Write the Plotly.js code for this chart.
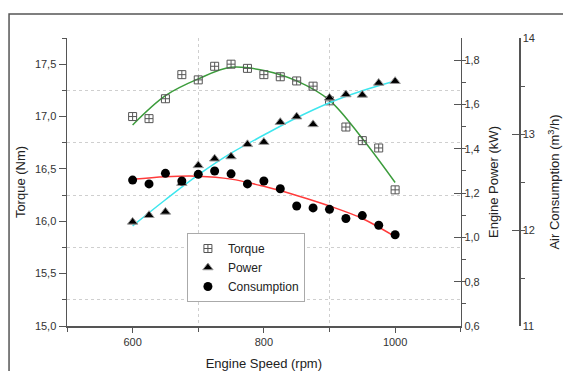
<!DOCTYPE html>
<html>
<head>
<meta charset="utf-8">
<script src="https://cdn.plot.ly/plotly-3.0.1.min.js"></script>
<style>html,body{margin:0;padding:0;background:#fff;}#chart{width:563px;height:371px;}</style>
</head>
<body>
<div id="chart"></div>
<script>
// Measured data points
const speed = [600,625,650,675,700,725,750,775,800,825,850,875,900,925,950,975,1000];
const torque = [17.00,16.98,17.17,17.40,17.35,17.48,17.50,17.46,17.40,17.38,17.34,17.29,17.15,16.90,16.77,16.70,16.30];
const power = [1.07,1.10,1.115,1.245,1.325,1.355,1.365,1.42,1.43,1.52,1.545,1.51,1.63,1.645,1.643,1.697,1.705];
const consumption = [12.52,12.48,12.59,12.51,12.58,12.615,12.585,12.48,12.51,12.43,12.25,12.23,12.215,12.12,12.15,12.05,11.95];

// Fit curves
const fitSpeed = [600,650,700,750,800,850,900,950,1000];
const torqueFit = [16.92,17.20,17.36,17.47,17.44,17.34,17.155,16.79,16.37];
const powerFit = [1.052,1.17,1.282,1.38,1.462,1.54,1.608,1.662,1.706];
const consFit = [12.528,12.555,12.56,12.53,12.455,12.36,12.25,12.12,11.93];

const seriesNames = ['Torque','Power','Consumption'];
const xTitle = 'Engine Speed (rpm)';
const yTitles = ['Torque (Nm)','Engine Power (kW)','Air Consumption (m<sup>3</sup>/h)'];

const FONT = 'Liberation Sans, Arial, sans-serif';
const AX = '#555';
const GRID = '#cfcfcf';

const traces = [
  {x: fitSpeed, y: torqueFit, mode:'lines', line:{color:'#3c9c3c', width:1.5, shape:'spline'}, showlegend:false, yaxis:'y', hoverinfo:'skip'},
  {x: fitSpeed, y: powerFit, mode:'lines', line:{color:'#3ee6ee', width:1.5, shape:'spline'}, showlegend:false, yaxis:'y2', hoverinfo:'skip'},
  {x: fitSpeed, y: consFit, mode:'lines', line:{color:'#ff3b3b', width:1.5, shape:'spline'}, showlegend:false, yaxis:'y3', hoverinfo:'skip'},
  {x: speed, y: torque, name: seriesNames[0], mode:'markers', yaxis:'y',
   marker:{symbol:'square-cross-open', size:8, color:'#555', line:{width:1, color:'#555'}}},
  {x: speed, y: power, name: seriesNames[1], mode:'markers', yaxis:'y2',
   marker:{symbol:'triangle-up', size:9, color:'#000', line:{width:1, color:'#999'}}},
  {x: speed, y: consumption, name: seriesNames[2], mode:'markers', yaxis:'y3',
   marker:{symbol:'circle', size:9, color:'#000'}}
];

const W = 452.3;
const xEnd = 394 / W;

const commonAxis = {
  showline:true, linecolor:AX, linewidth:1.5, ticks:'outside', ticklen:7, tickcolor:AX, tickwidth:1,
  showgrid:false, zeroline:false, tickfont:{family:FONT, size:11, color:'#333'},
};

const layout = {
  width:563, height:371,
  margin:{l:67, r:563-67-W, t:38, b:45, pad:0},
  paper_bgcolor:'#fff', plot_bgcolor:'#fff',
  separators:',.',
  font:{family:FONT, color:'#222'},
  showlegend:true,
  legend:{x:(187-67)/W, y:(326-233)/288, xanchor:'left', yanchor:'top', bgcolor:'#fff',
    bordercolor:'#aaa', borderwidth:1, font:{family:FONT, size:12, color:'#222'}},
  xaxis: Object.assign({}, commonAxis, {
    domain:[0, xEnd], range:[500,1100], tick0:600, dtick:200, ticklen:5,
    minor:{tick0:500, dtick:100, ticklen:4, tickcolor:AX, showgrid:true, gridcolor:GRID, griddash:'dot', gridwidth:1},
    title:{text:xTitle, font:{family:FONT, size:13, color:'#222'}, standoff:12}
  }),
  yaxis: Object.assign({}, commonAxis, {
    range:[15,17.75], tick0:15, dtick:0.5, tickformat:'.1f',
    minor:{dtick:0.25, ticklen:4, tickcolor:AX, showgrid:true, gridcolor:GRID, griddash:'dot', gridwidth:1},
    title:{text:yTitles[0], font:{family:FONT, size:13, color:'#222'}, standoff:6}
  }),
  yaxis2: Object.assign({}, commonAxis, {
    overlaying:'y', side:'right', anchor:'x', range:[0.6,1.9], tick0:0.6, dtick:0.2, tickformat:'.1f',
    ticks:'inside',
    minor:{dtick:0.1, ticklen:4, tickcolor:AX},
    title:{text:yTitles[1], font:{family:FONT, size:13, color:'#222'}, standoff:10}
  }),
  yaxis3: Object.assign({}, commonAxis, {
    overlaying:'y', side:'right', anchor:'free', position:1, range:[11,14], tick0:11, dtick:1,
    ticks:'inside',
    minor:{dtick:0.5, ticklen:4, tickcolor:AX},
    title:{text:yTitles[2], font:{family:FONT, size:13, color:'#222'}, standoff:16}
  }),
  shapes:[
    {type:'rect', xref:'paper', yref:'paper', x0:(9-67)/W, x1:1.4, y0:-0.4, y1:(326-14)/288,
     line:{color:'#555', width:1.5}, fillcolor:'rgba(0,0,0,0)', layer:'below'}
  ]
};

Plotly.newPlot('chart', traces, layout, {displayModeBar:false, staticPlot:true});
</script>
</body>
</html>
